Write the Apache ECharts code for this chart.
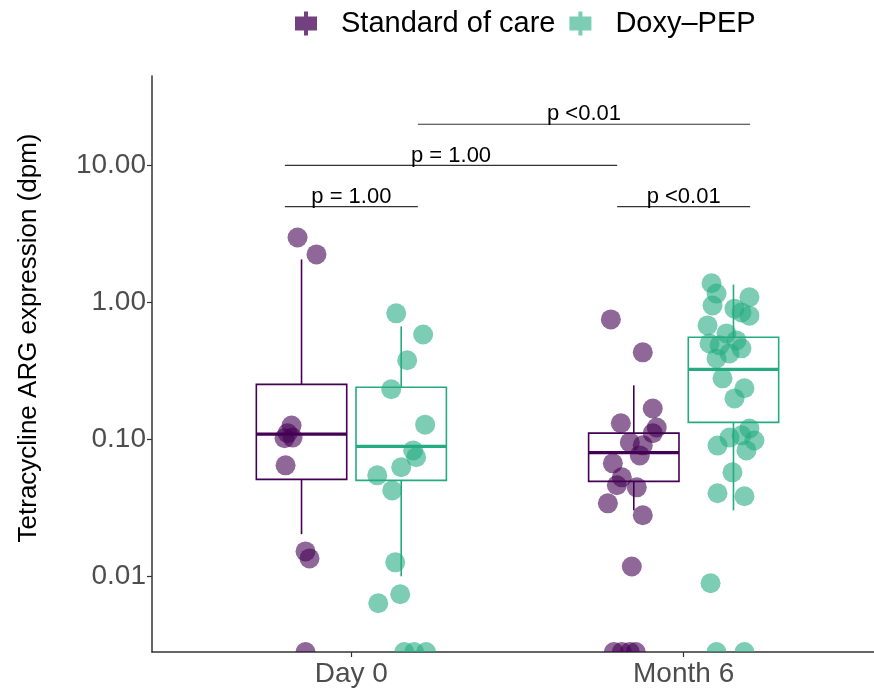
<!DOCTYPE html>
<html>
<head>
<meta charset="utf-8">
<script src="https://cdn.jsdelivr.net/npm/echarts@6/dist/echarts.min.js"></script>
<style>html,body{margin:0;padding:0;background:#fff;}#c{width:874px;height:688px;}</style>
</head>
<body>
<div id="c"></div>
<script>
// ---- data ----
const categories = ['Day 0', 'Month 6'];
const groups = ['Standard of care', 'Doxy\u2013PEP'];
const yTitle = 'Tetracycline ARG expression (dpm)';
const tickValues = [0.01, 0.1, 1, 10];
const tickLabels = ['0.01', '0.10', '1.00', '10.00'];
const yMin = 0.0028, yMax = 45;

// box stats: [lower whisker, q1, median, q3, upper whisker]
const boxSocDay0 = [0.0203, 0.051, 0.109, 0.252, 2.06];
const boxSocMonth6 = [0.0303, 0.0493, 0.080, 0.111, 0.248];
const boxDoxyDay0 = [0.010, 0.0502, 0.089, 0.240, 0.668];
const boxDoxyMonth6 = [0.0303, 0.133, 0.324, 0.556, 1.35];

// points (values) and jitter offsets (category units)
const socDay0 = [2.98, 2.24, 0.126, 0.111, 0.103, 0.102, 0.0646, 0.0152, 0.0135, 0.0028];
const socDay0Jit = [-0.012, 0.045, -0.030, -0.042, -0.027, -0.051, -0.048, 0.012, 0.024, 0.012];
const doxyDay0 = [0.832, 0.583, 0.378, 0.232, 0.128, 0.083, 0.074, 0.0625, 0.0546, 0.0424, 0.01265, 0.0074, 0.00635, 0.0028, 0.0028, 0.0028];
const doxyDay0Jit = [-0.015, 0.066, 0.018, -0.030, 0.072, 0.036, 0.045, 0.0, -0.072, -0.027, -0.018, -0.003, -0.069, 0.009, 0.039, 0.075];
const socMonth6 = [0.751, 0.432, 0.168, 0.131, 0.122, 0.111, 0.095, 0.0904, 0.0763, 0.0668, 0.0528, 0.0462, 0.0446, 0.0341, 0.0279, 0.0118, 0.0028, 0.0028, 0.0028, 0.0028];
const socMonth6Jit = [-0.069, 0.027, 0.057, -0.039, 0.069, 0.057, -0.012, 0.027, 0.018, -0.063, -0.036, -0.051, 0.009, -0.078, 0.027, -0.006, -0.060, -0.036, -0.012, 0.006];
const doxyMonth6 = [1.38, 1.16, 0.95, 1.09, 0.90, 0.80, 0.845, 0.679, 0.594, 0.502, 0.486, 0.528, 0.462, 0.390, 0.424, 0.279, 0.236, 0.199, 0.120, 0.107, 0.103, 0.098, 0.090, 0.083, 0.0574, 0.0404, 0.0384, 0.00889, 0.0028, 0.0028];
const doxyMonth6Jit = [-0.066, -0.051, -0.063, 0.048, 0.003, 0.048, 0.024, -0.078, -0.021, -0.072, -0.042, 0.009, 0.024, -0.051, -0.012, -0.033, 0.033, 0.003, 0.048, 0.024, -0.012, 0.063, -0.048, 0.039, -0.003, -0.048, 0.033, -0.069, -0.051, 0.033];

// significance brackets: [from, to, y value, label]
const bracketFrom = [0.8, 0.8, 1.8, 1.2];
const bracketTo = [1.2, 1.8, 2.2, 2.2];
const bracketY = [5, 10, 5, 20];
const bracketLabels = ['p = 1.00', 'p = 1.00', 'p <0.01', 'p <0.01'];

// ---- styling ----
const colSoc = '#440154', colDoxy = '#25AB80';
const dodge = 0.15, boxW = 0.272;
const FONT = 'Liberation Sans, Arial, Helvetica, sans-serif';
const L = Math.log10;

function pts(vals, jit, center) {
  return vals.map((v, i) => [center + jit[i], L(v)]);
}
function boxData(stats, center) {
  return [center].concat(stats.map(L));
}
function boxSeries(name, color, rows) {
  return {
    type: 'custom', name: name, z: 2, clip: true,
    data: rows,
    renderItem: function (params, api) {
      const x = api.value(0);
      const w = api.size([boxW, 0])[0];
      const pLo = api.coord([x, api.value(1)]);
      const pQ1 = api.coord([x, api.value(2)]);
      const pMed = api.coord([x, api.value(3)]);
      const pQ3 = api.coord([x, api.value(4)]);
      const pHi = api.coord([x, api.value(5)]);
      const cx = pQ1[0];
      const st = { stroke: color, lineWidth: 1.6, fill: null };
      return {
        type: 'group',
        children: [
          { type: 'line', shape: { x1: cx, y1: pHi[1], x2: cx, y2: pQ3[1] }, style: st },
          { type: 'line', shape: { x1: cx, y1: pQ1[1], x2: cx, y2: pLo[1] }, style: st },
          { type: 'rect', shape: { x: cx - w / 2, y: pQ3[1], width: w, height: pQ1[1] - pQ3[1] }, style: { stroke: color, lineWidth: 1.6, fill: 'rgba(255,255,255,0)' } },
          { type: 'line', shape: { x1: cx - w / 2, y1: pMed[1], x2: cx + w / 2, y2: pMed[1] }, style: { stroke: color, lineWidth: 3.2 } }
        ]
      };
    }
  };
}
function pointSeries(name, color, data) {
  return {
    type: 'custom', name: name, z: 3, clip: true,
    data: data,
    itemStyle: { color: color },
    renderItem: function (params, api) {
      const p = api.coord([api.value(0), api.value(1)]);
      return { type: 'circle', shape: { cx: p[0], cy: p[1], r: 10 }, style: { fill: color, opacity: 0.6 } };
    }
  };
}

const bracketRows = bracketFrom.map((f, i) => [f, bracketTo[i], L(bracketY[i])]);

const chart = echarts.init(document.getElementById('c'), null, { renderer: 'canvas' });
chart.setOption({
  animation: false,
  backgroundColor: '#fff',
  textStyle: { fontFamily: FONT },
  legend: {
    top: 4, left: 290,
    itemWidth: 22, itemHeight: 24, itemGap: 14,
    textStyle: { fontSize: 29, color: '#000', fontFamily: FONT, padding: [0, 0, 0, 19] },
    data: [
      { name: groups[0], icon: 'path://M9,0h4v5h-4z M0,5h22v14h-22z M9,19h4v5h-4z', itemStyle: { color: 'rgba(68,1,84,0.75)' } },
      { name: groups[1], icon: 'path://M9,0h4v5h-4z M0,5h22v14h-22z M9,19h4v5h-4z', itemStyle: { color: 'rgba(37,171,128,0.6)' } }
    ],
    selectedMode: false
  },
  graphic: [
    { type: 'text', x: 29, y: 338, rotation: Math.PI / 2, style: { text: yTitle, fontSize: 26, fontFamily: FONT, fill: '#000', align: 'center', verticalAlign: 'middle' } }
  ],
  grid: { left: 152, top: 76, width: 731, height: 576, containLabel: false, outerBoundsMode: 'none' },
  xAxis: {
    type: 'value', min: 0.4, max: 2.6,
    splitLine: { show: false },
    axisLine: { show: true, onZero: false, lineStyle: { color: '#333', width: 1.5 } },
    axisTick: { show: true, customValues: [1, 2], length: 5, lineStyle: { color: '#333', width: 1.2 } },
    axisLabel: { customValues: [1, 2], formatter: v => categories[Math.round(v) - 1], fontSize: 28, color: '#4d4d4d', margin: 8, fontFamily: FONT }
  },
  yAxis: {
    type: 'value', min: L(yMin), max: L(yMax),
    splitLine: { show: false },
    axisLine: { show: true, onZero: false, lineStyle: { color: '#333', width: 1.5 } },
    axisTick: { show: true, customValues: tickValues.map(L), length: 5, lineStyle: { color: '#333', width: 1.2 } },
    axisLabel: {
      customValues: tickValues.map(L), fontSize: 28, color: '#4d4d4d', margin: 6, fontFamily: FONT,
      formatter: v => { const i = tickValues.findIndex(t => Math.abs(L(t) - v) < 1e-6); return i >= 0 ? tickLabels[i] : ''; }
    }
  },
  series: [
    boxSeries(groups[0], colSoc, [boxData(boxSocDay0, 1 - dodge), boxData(boxSocMonth6, 2 - dodge)]),
    boxSeries(groups[1], colDoxy, [boxData(boxDoxyDay0, 1 + dodge), boxData(boxDoxyMonth6, 2 + dodge)]),
    pointSeries(groups[0], colSoc, pts(socDay0, socDay0Jit, 1 - dodge).concat(pts(socMonth6, socMonth6Jit, 2 - dodge))),
    pointSeries(groups[1], colDoxy, pts(doxyDay0, doxyDay0Jit, 1 + dodge).concat(pts(doxyMonth6, doxyMonth6Jit, 2 + dodge))),
    {
      type: 'custom', name: 'brackets', z: 4, clip: false,
      data: bracketRows,
      renderItem: function (params, api) {
        const a = api.coord([api.value(0), api.value(2)]);
        const b = api.coord([api.value(1), api.value(2)]);
        return {
          type: 'group',
          children: [
            { type: 'line', shape: { x1: a[0], y1: a[1], x2: b[0], y2: b[1] }, style: { stroke: '#333', lineWidth: 1.2 } },
            { type: 'text', x: (a[0] + b[0]) / 2, y: a[1] + 1, style: { text: bracketLabels[params.dataIndex], fontSize: 22, fontFamily: FONT, fill: '#000', align: 'center', verticalAlign: 'bottom' } }
          ]
        };
      }
    }
  ]
});
</script>
</body>
</html>
